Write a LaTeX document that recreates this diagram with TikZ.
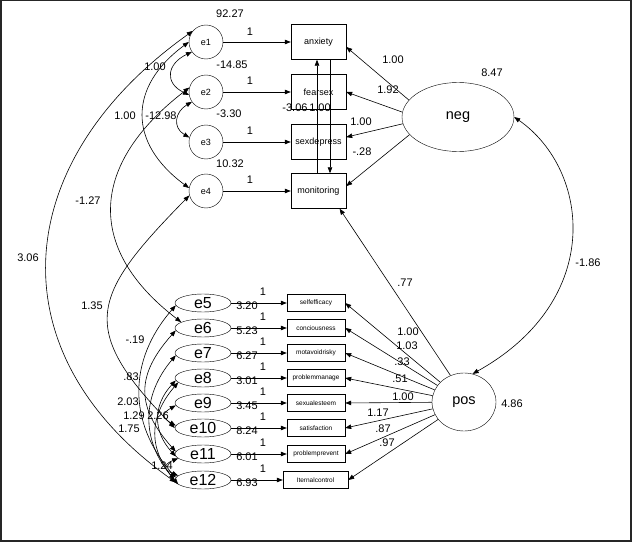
\documentclass[tikz,border=0pt]{standalone}
\usepackage{fontspec}
\setmainfont{Liberation Sans}
\usetikzlibrary{arrows.meta,shapes.geometric}

\begin{document}
\begin{tikzpicture}[x=1pt,y=-1pt,
    errc/.style={draw,circle,minimum size=34pt,inner sep=0pt,font=\fontsize{9}{10}\selectfont},
    erre/.style={draw,ellipse,minimum width=56pt,minimum height=18pt,inner sep=0pt,font=\fontsize{16}{18}\selectfont},
    obsbig/.style={draw,minimum width=55pt,minimum height=35pt,inner sep=1pt,font=\fontsize{9}{10}\selectfont},
    obssmall/.style={draw,minimum width=58pt,minimum height=17pt,inner sep=1pt,font=\fontsize{6.5}{7}\selectfont},
    lat/.style={draw,ellipse,inner sep=0pt,font=\fontsize{14.5}{16}\selectfont},
    num/.style={inner sep=0pt,font=\fontsize{11}{13}\selectfont},
    reg/.style={-{Triangle[length=6pt,width=4.5pt]},line width=0.6pt},
    cov/.style={{Triangle[length=6pt,width=4.5pt]}-{Triangle[length=6pt,width=4.5pt]},line width=0.6pt}]
  \useasboundingbox (0,0) rectangle (633,543);
  \draw[line width=1.5pt,black!85] (0.75,0.75) rectangle (631,541);

  % Upper block: error terms and observed variables
  \node[errc] (e1) at (206,42)  {e1};
  \node[errc] (e2) at (206,92)  {e2};
  \node[errc] (e3) at (206,142) {e3};
  \node[errc] (e4) at (206,191) {e4};

  \node[obsbig] (anxiety)    at (318.5,42)  {anxiety};
  \node[obsbig] (fearsex)    at (318.5,92)  {fearsex};
  \node[obsbig] (sexdepress) at (318.5,142) {sexdepress};
  \node[obsbig] (monitoring) at (318.5,191) {monitoring};

  % Latent factors
  \node[lat,minimum width=112pt,minimum height=69pt] (neg) at (458,117) {neg};
  \node[lat,minimum width=64pt,minimum height=58pt]  (pos) at (464,402) {pos};

  % Lower block: error terms and observed variables
  \node[erre] (e5)  at (203,303) {e5};
  \node[erre] (e6)  at (203,328) {e6};
  \node[erre] (e7)  at (203,353) {e7};
  \node[erre] (e8)  at (203,378) {e8};
  \node[erre] (e9)  at (203,403) {e9};
  \node[erre] (e10) at (203,428) {e10};
  \node[erre] (e11) at (203,454) {e11};
  \node[erre] (e12) at (203,480) {e12};

  \node[obssmall] (selfeff)    at (316,303) {selfefficacy};
  \node[obssmall] (concious)   at (316,328) {conciousness};
  \node[obssmall] (motavoid)   at (316,353) {motavoidrisky};
  \node[obssmall] (probman)    at (316,378) {problemmanage};
  \node[obssmall] (sexest)     at (316,403) {sexualesteem};
  \node[obssmall] (satisf)     at (316,428) {satisfaction};
  \node[obssmall] (probprev)   at (316,454) {problemprevent};
  \node[obssmall,minimum width=65pt] (intcontrol) at (315.5,480) {Iternalcontrol};

  % Error paths
  \draw[reg] (e1) -- (anxiety);
  \draw[reg] (e2) -- (fearsex);
  \draw[reg] (e3) -- (sexdepress);
  \draw[reg] (e4) -- (monitoring);
  \draw[reg] (e5) -- (selfeff);
  \draw[reg] (e6) -- (concious);
  \draw[reg] (e7) -- (motavoid);
  \draw[reg] (e8) -- (probman);
  \draw[reg] (e9) -- (sexest);
  \draw[reg] (e10) -- (satisf);
  \draw[reg] (e11) -- (probprev);
  \draw[reg] (e12) -- (intcontrol);

  % Factor loadings
  \draw[reg] (neg.161) -- (anxiety.-10);
  \draw[reg] (neg.175) -- (fearsex.east);
  \draw[reg] (neg.187) -- (sexdepress.10);
  \draw[reg] (neg.200) -- (monitoring.10);
  \draw[reg] (pos.117) -- (monitoring.-40);
  \draw[reg] (pos) -- (selfeff.east);
  \draw[reg] (pos) -- (concious.east);
  \draw[reg] (pos) -- (motavoid.east);
  \draw[reg] (pos) -- (probman.east);
  \draw[reg] (pos) -- (sexest.east);
  \draw[reg] (pos) -- (satisf.east);
  \draw[reg] (pos) -- (probprev.east);
  \draw[reg] (pos) -- (intcontrol.east);
  \draw[reg] ([xshift=-1.5pt]monitoring.north) -- ([xshift=-1.5pt]anxiety.south);
  \draw[reg] ([xshift=11.5pt]anxiety.south) -- ([xshift=11.5pt]monitoring.north);

  % Covariances
  \draw[cov] (neg.east) .. controls (590,170) and (605,300) .. (pos.73);
  \draw[cov] (e1.215) .. controls +(-25,12) and +(-25,-12) .. (e2.190);
  \draw[cov] (e2.215) .. controls +(-17,10) and +(-17,-10) .. (e3.165);
  \draw[cov] (e1.west) .. controls +(-61,45) and +(-61,-45) .. (e4.170);
  \draw[cov] (e2.165) .. controls +(-98,75) and +(-98,-75) .. (e6.165);
  \draw[cov] (e4.195) .. controls +(-98,100) and +(-98,-100) .. (e10.180);
  \draw[cov] (e1.140) .. controls +(-183,130) and +(-183,-130) .. (e12.185);
  \draw[cov] (e5.185) .. controls +(-48,55) and +(-48,-55) .. (e12.175);
  \draw[cov] (e6.185) .. controls +(-40,45) and +(-40,-45) .. (e11.175);
  \draw[cov] (e7.185) .. controls +(-34,40) and +(-34,-40) .. (e12.180);
  \draw[cov] (e8.185) .. controls +(-23,25) and +(-23,-25) .. (e11.185);
  \draw[cov] (e8.190) .. controls +(-30,35) and +(-30,-35) .. (e12.190);
  \draw[cov] (e9.185) .. controls +(-14,8) and +(-14,-8) .. (e10.175);
  \draw[cov] (e11.190) .. controls +(-15,6) and +(-15,-6) .. (e12.170);

  % Estimates
  \node[num] (ve1) at (230,14)  {92.27};
  \node[num] (ve2) at (232,65)  {-14.85};
  \node[num] (ve3) at (229,114) {-3.30};
  \node[num] (ve4) at (230,164) {10.32};
  \node[num] (w1) at (250,32)  {1};
  \node[num] (w2) at (250,81)  {1};
  \node[num] (w3) at (250,131) {1};
  \node[num] (w4) at (250,180) {1};
  \node[num] (vneg) at (492,73)  {8.47};
  \node[num] (vpos) at (512,404) {4.86};
  \node[num] (ln1) at (393,60)  {1.00};
  \node[num] (ln2) at (388,90)  {1.92};
  \node[num] (ln3) at (361,122) {1.00};
  \node[num] (ln4) at (362,152) {-.28};
  \node[num] (lmon) at (405,283) {.77};
  \node[num] (lma) at (295,108) {-3.06};
  \node[num] (lam) at (320,108) {1.00};
  \node[num] (cnp) at (588,263) {-1.86};
  \node[num] (lp1) at (408,332) {1.00};
  \node[num] (lp2) at (407,346) {1.03};
  \node[num] (lp3) at (402,362) {.33};
  \node[num] (lp4) at (400,379) {.51};
  \node[num] (lp5) at (403,397) {1.00};
  \node[num] (lp6) at (378,413) {1.17};
  \node[num] (lp7) at (383,429) {.87};
  \node[num] (lp8) at (387,443) {.97};
  \node[num] (c12)  at (155,67)  {1.00};
  \node[num] (c14)  at (125,116) {1.00};
  \node[num] (c23)  at (161,116) {-12.98};
  \node[num] (c26)  at (88,201)  {-1.27};
  \node[num] (c112) at (28,258)  {3.06};
  \node[num] (c410) at (92,306)  {1.35};
  \node[num] (c512) at (135,340) {-.19};
  \node[num] (c611) at (131,377) {.83};
  \node[num] (c712) at (128,402) {2.03};
  \node[num] (c811) at (134,416) {1.29};
  \node[num] (c910) at (158,416) {2.26};
  \node[num] (c812) at (129,429) {1.75};
  \node[num] (c1112) at (162,466) {1.24};
  \node[num] (w5)  at (263,292) {1};
  \node[num] (w6)  at (263,317) {1};
  \node[num] (w7)  at (263,342) {1};
  \node[num] (w8)  at (263,367) {1};
  \node[num] (w9)  at (263,392) {1};
  \node[num] (w10) at (263,417) {1};
  \node[num] (w11) at (263,443) {1};
  \node[num] (w12) at (263,469) {1};
  \node[num] (m5)  at (247,306) {3.20};
  \node[num] (m6)  at (247,331) {5.23};
  \node[num] (m7)  at (247,356) {6.27};
  \node[num] (m8)  at (247,381) {3.01};
  \node[num] (m9)  at (247,406) {3.45};
  \node[num] (m10) at (247,431) {8.24};
  \node[num] (m11) at (247,457) {6.01};
  \node[num] (m12) at (247,483) {6.93};
\end{tikzpicture}
\end{document}
